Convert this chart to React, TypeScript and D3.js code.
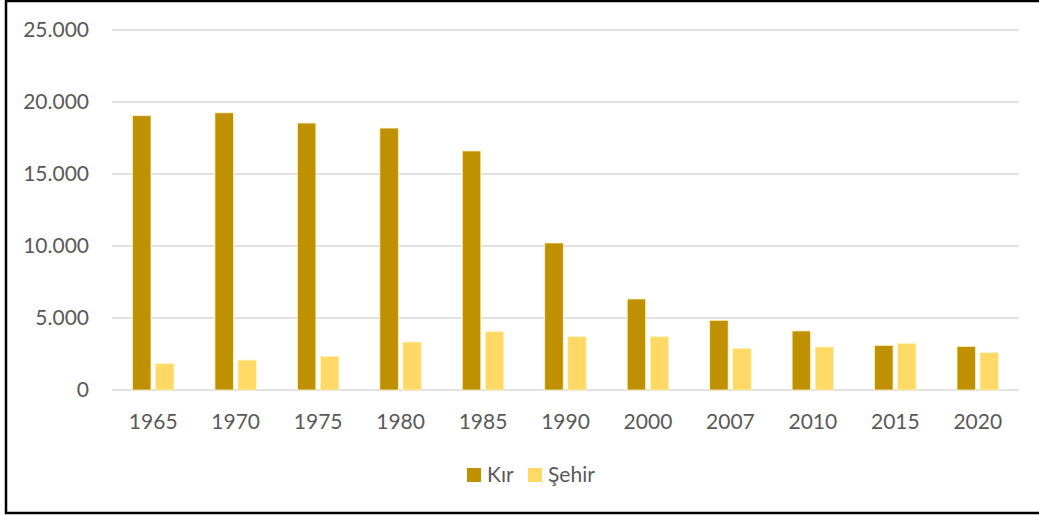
import { scaleBand, scaleLinear } from 'd3'

const width = 1039
const height = 515
const margin = { top: 30, right: 20, bottom: 125, left: 112 }

const years = ['1965', '1970', '1975', '1980', '1985', '1990', '2000', '2007', '2010', '2015', '2020']
const kir = [19050, 19250, 18540, 18190, 16600, 10210, 6320, 4840, 4100, 3100, 3030]
const sehir = [1830, 2080, 2340, 3330, 4050, 3700, 3700, 2890, 2990, 3240, 2590]
const yTicks = [0, 5000, 10000, 15000, 20000, 25000]
const seriesNames = ['Kır', 'Şehir']
const colors = ['#BF9000', '#FFD966']

const font = 'Lato, "Open Sans", sans-serif'
const fmt = (v: number) => (v === 0 ? '0' : v.toLocaleString('de-DE'))

export default function App() {
  const innerWidth = width - margin.left - margin.right
  const innerHeight = height - margin.top - margin.bottom

  const x0 = scaleBand().domain(years).range([0, innerWidth])
  const x1 = scaleBand()
    .domain(seriesNames)
    .range([0, x0.bandwidth()])
    .paddingInner(0.196)
    .paddingOuter(0.89)
  const y = scaleLinear().domain([0, 25000]).range([innerHeight, 0])

  const series = [kir, sehir]

  return (
    <svg
      width={width}
      height={height}
      style={{ position: 'absolute', top: 0, left: 0, background: '#fff' }}
    >
      <rect x={0} y={0} width={width} height={height} fill="#fff" />
      <path
        d={`M${width + 5},1 H6 V513 H${width + 5}`}
        fill="none"
        stroke="#000"
        strokeWidth={2.5}
      />
      <g transform={`translate(${margin.left},${margin.top})`}>
        {yTicks.map((t) => (
          <g key={t}>
            <line
              x1={0}
              x2={innerWidth}
              y1={y(t)}
              y2={y(t)}
              stroke="#d9d9d9"
              strokeWidth={1.5}
            />
            <text
              x={-23}
              y={y(t)}
              dy=".35em"
              textAnchor="end"
              fontFamily={font}
              fontSize={21}
              fill="#595959"
            >
              {fmt(t)}
            </text>
          </g>
        ))}
        {years.map((yr, i) => (
          <g key={yr} transform={`translate(${x0(yr)},0)`}>
            {seriesNames.map((s, j) => (
              <rect
                key={s}
                x={x1(s)}
                y={y(series[j][i])}
                width={x1.bandwidth()}
                height={innerHeight - y(series[j][i])}
                fill={colors[j]}
                stroke="#fff3c4"
                strokeWidth={0.8}
              />
            ))}
            <text
              x={x0.bandwidth() / 2}
              y={innerHeight + 32}
              dy=".35em"
              textAnchor="middle"
              fontFamily={font}
              fontSize={21}
              fill="#595959"
            >
              {yr}
            </text>
          </g>
        ))}
      </g>
      <g transform="translate(467,468)">
        <rect x={0} y={0} width={14} height={14} fill={colors[0]} />
        <text x={20} y={7} dy=".35em" fontFamily={font} fontSize={21} fill="#595959">
          {seriesNames[0]}
        </text>
        <rect x={61} y={0} width={14} height={14} fill={colors[1]} />
        <text x={81} y={7} dy=".35em" fontFamily={font} fontSize={21} fill="#595959">
          {seriesNames[1]}
        </text>
      </g>
    </svg>
  )
}
